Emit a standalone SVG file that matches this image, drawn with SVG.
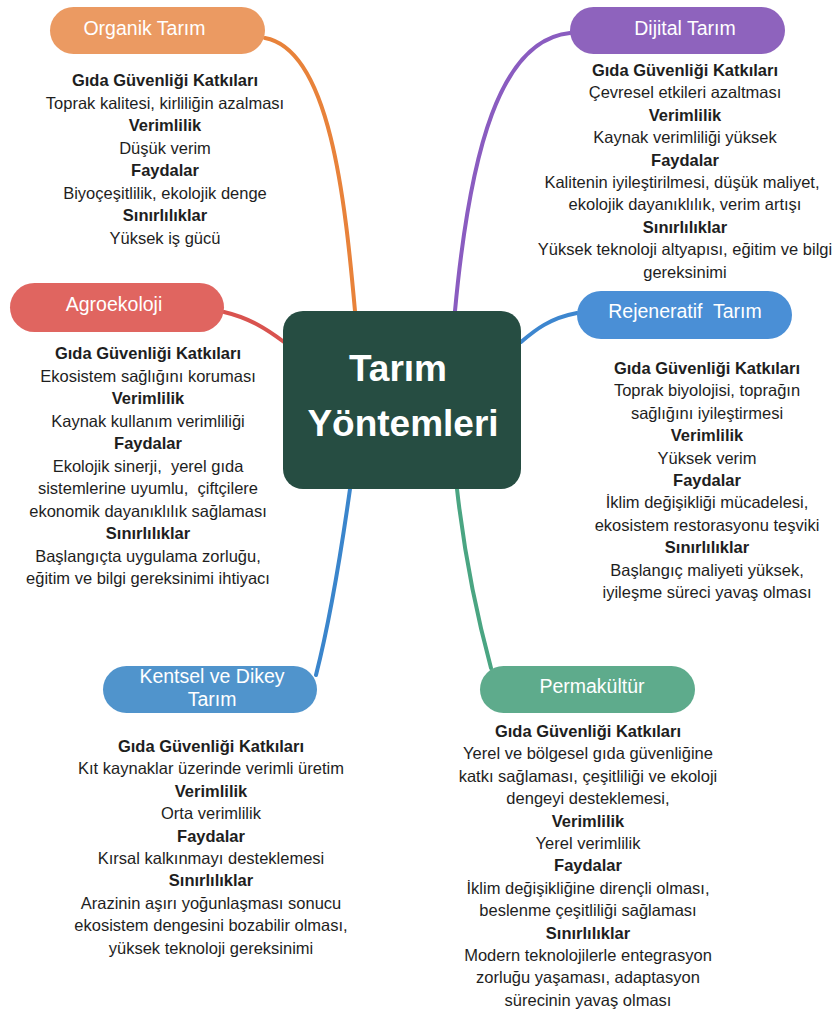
<svg xmlns="http://www.w3.org/2000/svg" width="832" height="1012" viewBox="0 0 832 1012">
<style>
text{font-family:"Liberation Sans",Arial,sans-serif;white-space:pre}
.d{font-size:16.5px;fill:#1e1e1e;text-anchor:middle}
.b{font-weight:bold}
.p{font-size:19.5px;fill:#ffffff;text-anchor:middle}
.c{font-size:37px;font-weight:bold;fill:#ffffff;text-anchor:middle}
.ln{fill:none;stroke-width:4;stroke-linecap:round}
</style>
<rect width="832" height="1012" fill="#ffffff"/>
<g id="connectors">
<path class="ln" stroke="#e8823a" d="M265,38 C330,50 345,200 355,311"/>
<path class="ln" stroke="#8a5cc0" d="M570,33 C500,40 470,150 455,311"/>
<path class="ln" stroke="#d9534f" d="M224,312 C250,318 268,330 284,342"/>
<path class="ln" stroke="#3d86cf" d="M577,313 C550,318 535,330 521,342"/>
<path class="ln" stroke="#3a85cc" d="M350,489 C340,560 330,620 316,675"/>
<path class="ln" stroke="#4aa582" d="M457,489 C465,560 478,620 491,668"/>
</g>
<g id="center">
<rect x="283" y="311" width="238" height="178" rx="20" fill="#264d42"/>
<text class="c" x="398" y="381">Tarım</text>
<text class="c" x="403" y="436">Yöntemleri</text>
</g>
<g id="organik">
<rect x="50" y="7" width="215" height="47" rx="23.5" fill="#eb9a62"/>
<text class="p" x="144.5" y="35">Organik Tarım</text>
<text class="d"><tspan class="b" x="165" y="86">Gıda Güvenliği Katkıları</tspan><tspan x="165" y="108.5">Toprak kalitesi, kirliliğin azalması</tspan><tspan class="b" x="165" y="131">Verimlilik</tspan><tspan x="165" y="153.5">Düşük verim</tspan><tspan class="b" x="165" y="176">Faydalar</tspan><tspan x="165" y="198.5">Biyoçeşitlilik, ekolojik denge</tspan><tspan class="b" x="165" y="221">Sınırlılıklar</tspan><tspan x="165" y="243.5">Yüksek iş gücü</tspan></text>
</g>
<g id="dijital">
<rect x="570" y="7" width="215" height="47" rx="23.5" fill="#8e63bd"/>
<text class="p" x="685" y="35">Dijital Tarım</text>
<text class="d"><tspan class="b" x="685" y="76">Gıda Güvenliği Katkıları</tspan><tspan x="685" y="98.4">Çevresel etkileri azaltması</tspan><tspan class="b" x="685" y="120.8">Verimlilik</tspan><tspan x="685" y="143.2">Kaynak verimliliği yüksek</tspan><tspan class="b" x="685" y="165.6">Faydalar</tspan><tspan x="682" y="188">Kalitenin iyileştirilmesi, düşük maliyet,</tspan><tspan x="685" y="210.4">ekolojik dayanıklılık, verim artışı</tspan><tspan class="b" x="685" y="232.8">Sınırlılıklar</tspan><tspan x="685" y="255.2">Yüksek teknoloji altyapısı, eğitim ve bilgi</tspan><tspan x="685" y="277.6">gereksinimi</tspan></text>
</g>
<g id="agroekoloji">
<rect x="10" y="283" width="214" height="49" rx="24.5" fill="#e06560"/>
<text class="p" x="114" y="311">Agroekoloji</text>
<text class="d"><tspan class="b" x="148" y="359">Gıda Güvenliği Katkıları</tspan><tspan x="148" y="381.5">Ekosistem sağlığını koruması</tspan><tspan class="b" x="148" y="404">Verimlilik</tspan><tspan x="148" y="426.5">Kaynak kullanım verimliliği</tspan><tspan class="b" x="148" y="449">Faydalar</tspan><tspan x="148" y="471.5">Ekolojik sinerji,  yerel gıda</tspan><tspan x="148" y="494">sistemlerine uyumlu,  çiftçilere</tspan><tspan x="148" y="516.5">ekonomik dayanıklılık sağlaması</tspan><tspan class="b" x="148" y="539">Sınırlılıklar</tspan><tspan x="148" y="561.5">Başlangıçta uygulama zorluğu,</tspan><tspan x="148" y="584">eğitim ve bilgi gereksinimi ihtiyacı</tspan></text>
</g>
<g id="rejeneratif">
<rect x="577" y="291" width="215" height="48" rx="24" fill="#4a8fd6"/>
<text class="p" x="685" y="318">Rejeneratif  Tarım</text>
<text class="d"><tspan class="b" x="707" y="374">Gıda Güvenliği Katkıları</tspan><tspan x="707" y="396.4">Toprak biyolojisi, toprağın</tspan><tspan x="707" y="418.8">sağlığını iyileştirmesi</tspan><tspan class="b" x="707" y="441.2">Verimlilik</tspan><tspan x="707" y="463.6">Yüksek verim</tspan><tspan class="b" x="707" y="486">Faydalar</tspan><tspan x="707" y="508.4">İklim değişikliği mücadelesi,</tspan><tspan x="707" y="530.8">ekosistem restorasyonu teşviki</tspan><tspan class="b" x="707" y="553.2">Sınırlılıklar</tspan><tspan x="707" y="575.6">Başlangıç maliyeti yüksek,</tspan><tspan x="707" y="598">iyileşme süreci yavaş olması</tspan></text>
</g>
<g id="kentsel">
<rect x="103" y="666" width="214" height="47" rx="23.5" fill="#5094cc"/>
<text class="p"><tspan x="212" y="683">Kentsel ve Dikey</tspan><tspan x="212" y="706">Tarım</tspan></text>
<text class="d"><tspan class="b" x="211" y="752">Gıda Güvenliği Katkıları</tspan><tspan x="211" y="774.4">Kıt kaynaklar üzerinde verimli üretim</tspan><tspan class="b" x="211" y="796.8">Verimlilik</tspan><tspan x="211" y="819.2">Orta verimlilik</tspan><tspan class="b" x="211" y="841.6">Faydalar</tspan><tspan x="211" y="864">Kırsal kalkınmayı desteklemesi</tspan><tspan class="b" x="211" y="886.4">Sınırlılıklar</tspan><tspan x="211" y="908.8">Arazinin aşırı yoğunlaşması sonucu</tspan><tspan x="211" y="931.2">ekosistem dengesini bozabilir olması,</tspan><tspan x="211" y="953.6">yüksek teknoloji gereksinimi</tspan></text>
</g>
<g id="permakultur">
<rect x="480" y="666" width="215" height="47" rx="23.5" fill="#5eab8c"/>
<text class="p" x="592" y="693">Permakültür</text>
<text class="d"><tspan class="b" x="588" y="737">Gıda Güvenliği Katkıları</tspan><tspan x="588" y="759.4">Yerel ve bölgesel gıda güvenliğine</tspan><tspan x="588" y="781.8">katkı sağlaması, çeşitliliği ve ekoloji</tspan><tspan x="588" y="804.2">dengeyi desteklemesi,</tspan><tspan class="b" x="588" y="826.6">Verimlilik</tspan><tspan x="588" y="849">Yerel verimlilik</tspan><tspan class="b" x="588" y="871.4">Faydalar</tspan><tspan x="588" y="893.8">İklim değişikliğine dirençli olması,</tspan><tspan x="588" y="916.2">beslenme çeşitliliği sağlaması</tspan><tspan class="b" x="588" y="938.6">Sınırlılıklar</tspan><tspan x="588" y="961">Modern teknolojilerle entegrasyon</tspan><tspan x="588" y="983.4">zorluğu yaşaması, adaptasyon</tspan><tspan x="588" y="1005.8">sürecinin yavaş olması</tspan></text>
</g>
</svg>
